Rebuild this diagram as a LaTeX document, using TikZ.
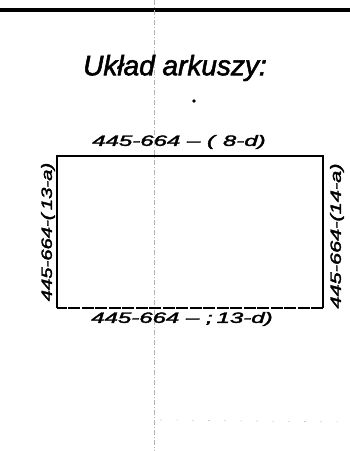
\documentclass[tikz,border=0pt]{standalone}
\usepackage{fontspec}
\setmainfont{Liberation Sans}
\newfontfamily\handfont[ItalicFont={Liberation Sans Italic},ItalicFeatures={FakeBold=2}]{Liberation Sans}
\begin{document}
\begin{tikzpicture}[x=1pt,y=-1pt,
  lbl/.style={inner sep=0pt,font=\handfont\itshape\fontsize{15}{15}\selectfont},
  frame/.style={line width=1.8pt},
  guide/.style={gray!60,line width=0.5pt,dash pattern=on 5pt off 2pt on 1pt off 2pt}]
\useasboundingbox (0,0) rectangle (350,451);
% top rule
\draw[line width=4.5pt] (0,10) -- (350,10);
% faint vertical guide
\coordinate (vt) at (154,0);
\coordinate (vb) at (154,451);
\draw[guide] (vt) -- (vb);
% faint bottom guide
\coordinate (ha) at (160,420);
\coordinate (hb) at (350,422);
\draw[gray!40,line width=0.6pt,dash pattern=on 2pt off 14pt] (ha) -- (hb);
% title
\node[inner sep=0pt,font=\handfont\itshape\fontsize{28}{28}\selectfont] (title) at (175,68) {Układ arkuszy:};
\fill (194,101) circle (1.8pt);
% sheet rectangle
\coordinate (tl) at (57,156);
\coordinate (tr) at (323,156);
\coordinate (br) at (323,308);
\coordinate (bl) at (57,308);
\draw[frame] (bl) -- (tl) -- (tr) -- (br);
\draw[frame,dash pattern=on 12pt off 1.5pt] (br) -- (bl);
\draw[frame,dash pattern=on 8pt off 1.5pt] (bl) -- (tl);
% labels
\node[lbl] (top) at (179,142) {\scalebox{1.6}[1]{445-664 – (\,\,8-d)}};
\node[lbl] (bot) at (182,319) {\scalebox{1.6}[1]{445-664 – ;\,13-d)}};
\node[lbl,rotate=90] (left) at (48,232) {\scalebox{1.35}[1]{445-664-(\,13-a)}};
\node[lbl,rotate=90] (right) at (337,236) {\scalebox{1.45}[1]{445-664-(14-a)}};
\end{tikzpicture}
\end{document}
